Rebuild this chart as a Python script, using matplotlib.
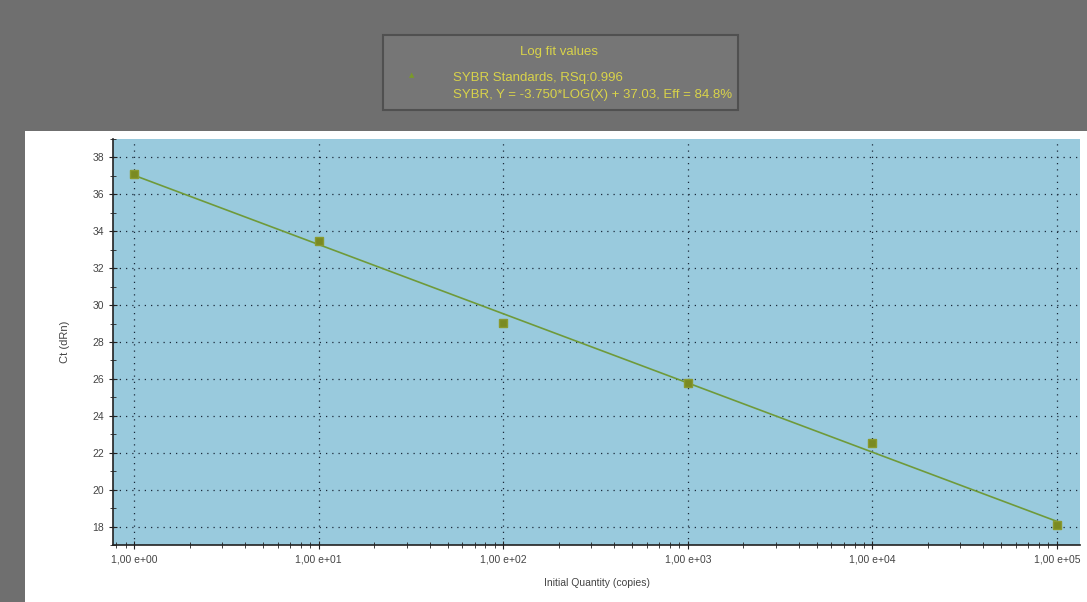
import numpy as np
import matplotlib.pyplot as plt
from matplotlib.patches import Rectangle
from matplotlib.ticker import FixedLocator, FuncFormatter, MultipleLocator, LogLocator

plt.rcParams['font.family'] = ['Liberation Sans', 'DejaVu Sans']

# standards (copies) and measured Ct
quantity = [1e0, 1e1, 1e2, 1e3, 1e4, 1e5]
ct = [37.1, 33.5, 29.05, 25.8, 22.5, 18.1]
slope = -3.750
intercept = 37.03
rsq = 0.996
eff = 84.8

fig = plt.figure(figsize=(10.87, 6.02), dpi=100)
fig.patch.set_facecolor('#6f6f6f')

# white panel behind the plot
fig.patches.append(Rectangle((25 / 1087, 0), 1 - 25 / 1087, 1 - 131 / 602,
                             transform=fig.transFigure, facecolor='white',
                             edgecolor='none', zorder=-1))

# legend box at top
fig.patches.append(Rectangle((383 / 1087, 1 - 110 / 602), 355 / 1087, 75 / 602,
                             transform=fig.transFigure, facecolor='#767676',
                             edgecolor='#505050', linewidth=1.5, zorder=1))
ylw = '#d9d34a'
fig.text(559 / 1087, 1 - 52 / 602, 'Log fit values', color=ylw, fontsize=9.5,
         ha='center', va='center')
fig.text(412 / 1087, 1 - 75 / 602, '\u25b2', color='#7a9a2a', fontsize=5,
         ha='center', va='center', family='DejaVu Sans')
fig.text(453 / 1087, 1 - 78 / 602, 'SYBR Standards, RSq:%.3f' % rsq,
         color=ylw, fontsize=9.5, ha='left', va='center')
fig.text(453 / 1087, 1 - 95 / 602,
         'SYBR, Y = %.3f*LOG(X) + %.2f, Eff = %.1f%%' % (slope, intercept, eff),
         color=ylw, fontsize=9.5, ha='left', va='center')

ax = fig.add_axes([113 / 1087, 57 / 602, 967 / 1087, 406 / 602])
ax.set_facecolor('#99cadd')
ax.set_xscale('log')
ax.set_xlim(10 ** -0.115, 10 ** 5.125)

fit_x = np.array([quantity[0], quantity[-1]])
fit_y = slope * np.log10(fit_x) + intercept
ax.plot(fit_x, fit_y, color='#6f9a3a', linewidth=1.2, zorder=3)
ax.plot(quantity, ct, linestyle='none', marker='s', markersize=6,
        color='#7a8a22', markeredgecolor='#8a9a30', zorder=4)

ax.xaxis.set_major_locator(FixedLocator(quantity))
ax.xaxis.set_minor_locator(LogLocator(base=10, subs=np.arange(2, 10)))
ax.xaxis.set_major_formatter(FuncFormatter(
    lambda v, p: '1,00 e+%02d' % int(round(np.log10(v)))))
ax.xaxis.set_minor_formatter(FuncFormatter(lambda v, p: ''))
ax.yaxis.set_minor_locator(MultipleLocator(1))
ax.set_ylim(17, 39)
ax.set_yticks(range(18, 39, 2))

ax.grid(True, which='major', color='#1a2a3a', linestyle=(0, (1, 4)), linewidth=0.9)
ax.tick_params(which='both', direction='inout', colors='#222222', labelsize=7.5,
               labelcolor='#444444')
ax.tick_params(which='major', length=6)
ax.tick_params(which='minor', length=4)

for side in ['top', 'right']:
    ax.spines[side].set_visible(False)
for side in ['left', 'bottom']:
    ax.spines[side].set_color('#222222')
    ax.spines[side].set_linewidth(1.2)

ax.set_xlabel('Initial Quantity (copies)', fontsize=7.5, color='#444444', labelpad=10)
ax.set_ylabel('Ct (dRn)', fontsize=8, color='#444444', labelpad=16)

fig.savefig('out.png', dpi=100, facecolor=fig.get_facecolor())
